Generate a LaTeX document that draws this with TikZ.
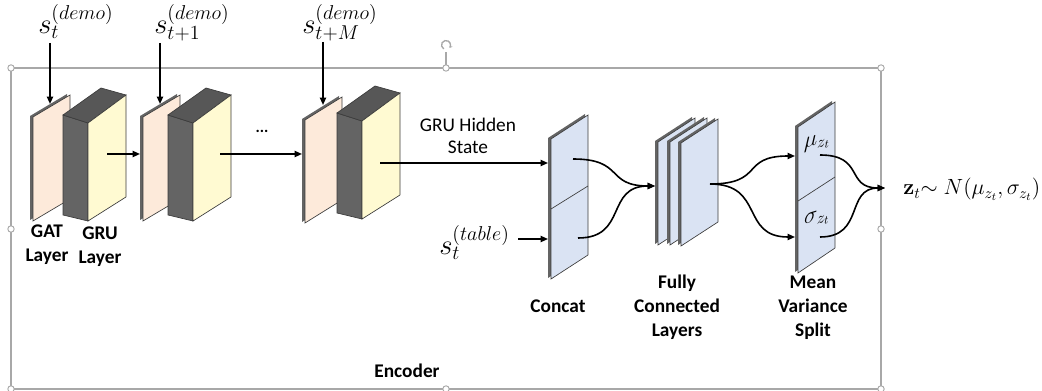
\RequirePackage{fix-cm}
\documentclass[tikz,border=0pt]{standalone}
\usepackage[no-math]{fontspec}
\setmainfont{Carlito}
\usetikzlibrary{arrows.meta}

\definecolor{peach}{HTML}{FDEADA}
\definecolor{paleyellow}{HTML}{FFFAD2}
\definecolor{paleblue}{HTML}{DAE3F3}
\definecolor{sidegray}{HTML}{646464}
\definecolor{topgray}{HTML}{575757}
\definecolor{darkedge}{HTML}{3C3C3C}
\definecolor{framegray}{HTML}{A8A8A8}

\tikzset{
  flow/.style={line width=1.2pt, -{Triangle[length=5.5pt,width=4.6pt]}},
  edgeline/.style={draw=darkedge, line width=0.5pt},
  lbl/.style={font=\fontsize{14.5}{18}\selectfont\bfseries, align=center, inner sep=0pt},
  plain/.style={font=\fontsize{14.5}{16.5}\selectfont, align=center, inner sep=0pt},
  mathlbl/.style={font=\fontsize{21.5}{24}\selectfont, inner sep=0pt},
  handle/.style={draw=framegray, fill=white, line width=0.7pt},
  % thin slab: face width / rise / height / face colour
  pics/slab/.style args={#1/#2/#3/#4}{code={
    \fill[sidegray] (-3,-1) -- (#1-3,-#2-1) -- (#1-3,#3-#2-1) -- (-3,#3-1) -- cycle;
    \filldraw[fill=#4, edgeline] (0,0) -- (#1,-#2) -- (#1,#3-#2) -- (0,#3) -- cycle;
  }},
  % GRU block: dark front, dark top, yellow side
  pics/grubox/.style={code={
    \filldraw[fill=sidegray, edgeline] (0,0) -- (25,8) -- (25,106) -- (0,100) -- cycle;
    \filldraw[fill=topgray, edgeline] (0,0) -- (38,-27) -- (63,-20) -- (25,8) -- cycle;
    \filldraw[fill=paleyellow, edgeline] (25,8) -- (63,-20) -- (63,82) -- (25,106) -- cycle;
  }},
}

\begin{document}
\begin{tikzpicture}[x=0.75pt, y=-0.75pt]
\useasboundingbox (0,0) rectangle (1042,391);

% ---- selection frame of the encoder group ----
\draw[framegray, line width=1pt] (11,68) rectangle (881,389);
\draw[framegray, line width=0.8pt] (446,68) -- (446,52);
\draw[framegray, line width=1pt, -{Stealth[length=2.2pt,width=2.6pt]}]
  (446,45) ++(120:4.5) arc[start angle=120, end angle=400, radius=4.5];
\foreach \hx/\hy in {11/68, 446/68, 881/68, 11/229, 881/229, 11/389, 446/389, 881/389}
  \filldraw[handle] (\hx,\hy) circle[radius=3.2];

% ---- GAT / GRU stacks ----
\pic at (33,117) {slab=37/22/104/peach};
\pic at (63,115) {grubox};
\pic at (143,117) {slab=37/22/104/peach};
\pic at (168,115) {grubox};
\pic at (305,120) {slab=37/23/103/peach};
\pic at (337,113) {grubox};

% ---- concat, fully connected, mean/variance ----
\pic at (551,139) {slab=37/24/140/paleblue};
\draw[edgeline] (551,209) -- (588,186);
\pic at (658,142) {slab=37/24/103/paleblue};
\pic at (670,142) {slab=37/24/103/paleblue};
\pic at (681,143) {slab=37/24/103/paleblue};
\pic at (798,127) {slab=37/25/146/paleblue};
\draw[edgeline] (798,201) -- (835,177);

% ---- labels ----
\node[mathlbl, anchor=base west] (sd1) at (38,34) {$s_t^{(demo)}$};
\node[mathlbl, anchor=base west] (sd2) at (154,34) {$s_{t+1}^{(demo)}$};
\node[mathlbl, anchor=base west] (sd3) at (302,34) {$s_{t+M}^{(demo)}$};
\node[mathlbl, anchor=base west] (stab) at (439,255) {$s_t^{(table)}$};
\node[lbl] (gatlbl) at (47,245) {GAT\\Layer};
\node[lbl] (grulbl) at (100,247) {GRU\\Layer};
\node[font=\fontsize{12}{12}\selectfont\bfseries, inner sep=0pt] (dots) at (262,131) {...};
\node[plain] (hidden) at (468,136) {GRU Hidden\\State};
\node[lbl] (concatlbl) at (558,306) {Concat};
\node[lbl] (fclbl) at (677,307) {Fully\\Connected\\Layers};
\node[lbl] (mvlbl) at (813,308) {Mean\\Variance\\Split};
\node[lbl] (enclbl) at (407,371) {Encoder};
\node[font=\fontsize{17}{17}\selectfont, yslant=0.3, inner sep=0pt] (mulbl) at (817,143) {$\mu_{z_t}$};
\node[font=\fontsize{17}{17}\selectfont, yslant=0.3, inner sep=0pt] (siglbl) at (817,219) {$\sigma_{z_t}$};
\node[font=\fontsize{16.5}{18}\selectfont, anchor=base west, inner sep=0pt] (zdist) at (903,195)
  {$\mathbf{z}_t{\sim}\;N(\mu_{z_t},\sigma_{z_t})$};

% ---- connector end points ----
\coordinate (in1a) at (50,43);   \coordinate (in1b) at (50,104);
\coordinate (in2a) at (160,43);  \coordinate (in2b) at (160,104);
\coordinate (in3a) at (323,42);  \coordinate (in3b) at (323,105);
\coordinate (g1out) at (107,154); \coordinate (g2in) at (140,154);
\coordinate (g2out) at (220,154); \coordinate (g3in) at (302,154);
\coordinate (g3out) at (380,163); \coordinate (catin1) at (548,163);
\coordinate (tabout) at (518,239); \coordinate (catin2) at (548,239);
\coordinate (cat1) at (573,159);  \coordinate (cat2) at (578,238);
\coordinate (fcin) at (655,186);  \coordinate (fcout) at (710,184);
\coordinate (mvin1) at (795,156); \coordinate (mvin2) at (795,237);
\coordinate (mvout1) at (820,155); \coordinate (mvout2) at (820,237);
\coordinate (zin) at (885,188);

% ---- connectors ----
\draw[flow] (in1a) -- (in1b);
\draw[flow] (in2a) -- (in2b);
\draw[flow] (in3a) -- (in3b);
\draw[flow] (g1out) -- (g2in);
\draw[flow] (g2out) -- (g3in);
\draw[flow] (g3out) -- (catin1);
\draw[flow] (tabout) -- (catin2);
\draw[flow] (cat1) .. controls (625,159) and (605,186) .. (fcin);
\draw[flow] (cat2) .. controls (628,238) and (605,186) .. (fcin);
\draw[flow] (fcout) .. controls (765,184) and (740,156) .. (mvin1);
\draw[flow] (fcout) .. controls (765,184) and (740,237) .. (mvin2);
\draw[flow] (mvout1) .. controls (865,155) and (845,188) .. (zin);
\draw[flow] (mvout2) .. controls (865,237) and (845,188) .. (zin);
\end{tikzpicture}
\end{document}
